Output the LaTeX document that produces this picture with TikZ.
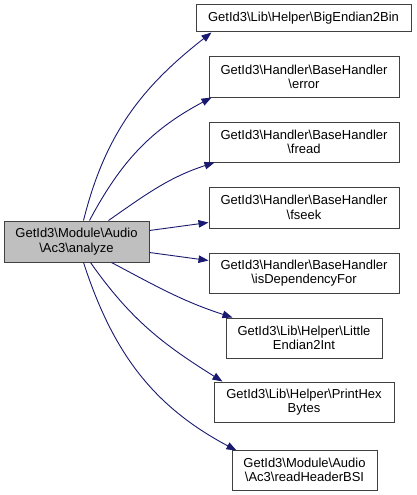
\documentclass[tikz,border=0pt]{standalone}
\usepackage{fontspec}
\setmainfont{Liberation Sans}
\usetikzlibrary{arrows.meta}
\definecolor{edgeblue}{HTML}{191970}
\definecolor{mainfill}{HTML}{BFBFBF}
\begin{document}
\begin{tikzpicture}[x=1pt,y=1pt]
\tikzstyle{every node}+=[inner sep=0pt, align=center, font=\fontsize{13}{14.5}\selectfont]
\tikzstyle{fn}=[draw=black!75, line width=1pt, fill=white]
\tikzstyle{call}=[edgeblue, line width=0.9pt, -{Triangle[length=10pt,width=7.5pt]}]
\useasboundingbox (0,0) rectangle (416,-495);
\node [fn, fill=mainfill, minimum width=145, minimum height=41] (analyze) at (76.5,-241.5) {GetId3\textbackslash Module\textbackslash Audio\\\textbackslash Ac3\textbackslash analyze};
\node [fn, minimum width=215, minimum height=27] (bigendian) at (303.5,-18.5) {GetId3\textbackslash Lib\textbackslash Helper\textbackslash BigEndian2Bin};
\node [fn, minimum width=190, minimum height=40] (error) at (304,-77) {GetId3\textbackslash Handler\textbackslash BaseHandler\\\textbackslash error};
\node [fn, minimum width=190, minimum height=40] (fread) at (304,-142) {GetId3\textbackslash Handler\textbackslash BaseHandler\\\textbackslash fread};
\node [fn, minimum width=190, minimum height=41] (fseek) at (304,-207.5) {GetId3\textbackslash Handler\textbackslash BaseHandler\\\textbackslash fseek};
\node [fn, minimum width=190, minimum height=40] (isdep) at (304,-273) {GetId3\textbackslash Handler\textbackslash BaseHandler\\\textbackslash isDependencyFor};
\node [fn, minimum width=156, minimum height=40] (littleendian) at (304,-338) {GetId3\textbackslash Lib\textbackslash Helper\textbackslash Little\\Endian2Int};
\node [fn, minimum width=180, minimum height=40] (printhex) at (304,-402) {GetId3\textbackslash Lib\textbackslash Helper\textbackslash PrintHex\\Bytes};
\node [fn, minimum width=145, minimum height=40] (readbsi) at (304.5,-470) {GetId3\textbackslash Module\textbackslash Audio\\\textbackslash Ac3\textbackslash readHeaderBSI};
% calls from analyze
\draw [call] ([xshift=80pt]analyze.north west) to[out=76, in=218] ([xshift=16pt]bigendian.south west);
\draw [call] ([xshift=86pt]analyze.north west) to[out=62, in=208] ([xshift=3pt]error.south west);
\draw [call] ([xshift=105pt]analyze.north west) to[out=35, in=198] ([xshift=6pt]fread.south west);
\draw [call] ([yshift=-10pt]analyze.north east) -- ([yshift=-36pt]fseek.north west);
\draw [call] ([yshift=10pt]analyze.south east) -- ([yshift=-8pt]isdep.north west);
\draw [call] ([xshift=108pt]analyze.south west) to[out=-28, in=162] ([xshift=7pt]littleendian.north west);
\draw [call] ([xshift=87pt]analyze.south west) to[out=-55, in=148] ([xshift=9pt]printhex.north west);
\draw [call] ([xshift=80pt]analyze.south west) to[out=-72, in=152] ([yshift=-1pt, xshift=5pt]readbsi.north west);
\end{tikzpicture}
\end{document}
